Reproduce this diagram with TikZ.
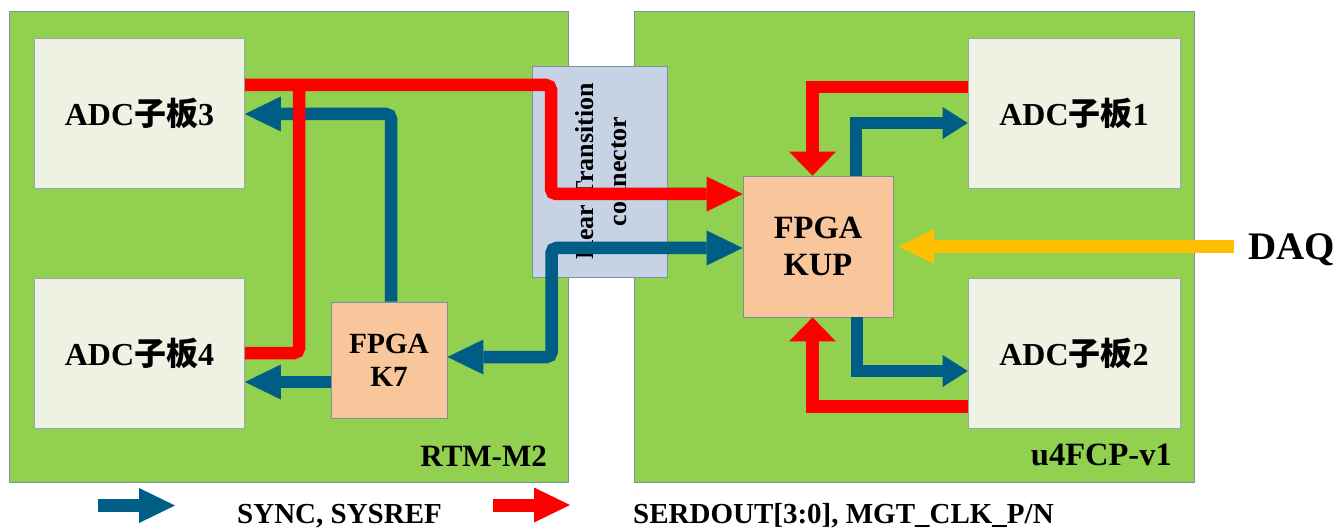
\documentclass[tikz,border=0pt]{standalone}
\usepackage{fontspec}
\usepackage{graphicx}
\setmainfont{Liberation Serif}
\newfontfamily\cjk{Noto Sans CJK SC}
\usetikzlibrary{arrows.meta}
\definecolor{panelgreen}{HTML}{92D050}
\definecolor{adcfill}{HTML}{EEF2E2}
\definecolor{connfill}{HTML}{C5D3E5}
\definecolor{fpgafill}{HTML}{F9C59B}
\definecolor{edgegray}{HTML}{7A90A4}
\definecolor{syncblue}{HTML}{005E86}
\definecolor{serdred}{HTML}{FF0000}
\definecolor{daqyellow}{HTML}{FFC000}
\tikzset{
  tipbig/.tip={Triangle[length=36pt,width=35pt,line width=0pt]},
  tipdown/.tip={Triangle[length=24pt,width=47pt,line width=0pt]},
  tipside/.tip={Triangle[length=25pt,width=32pt,line width=0pt]},
  panel/.style={draw=edgegray, line width=0.9pt, fill=panelgreen, minimum width=559pt, minimum height=471pt, inner sep=0pt},
  adcbox/.style={draw=edgegray!80, line width=0.7pt, fill=adcfill, minimum width=210pt, minimum height=150pt, inner sep=0pt, font=\fontsize{32}{38}\selectfont\bfseries},
  connbox/.style={draw=edgegray, line width=0.8pt, fill=connfill, minimum width=135pt, minimum height=211pt, inner sep=0pt},
  fpgabox/.style={draw=edgegray, line width=0.8pt, fill=fpgafill, inner sep=0pt, align=center},
  lbl/.style={inner sep=0pt, font=\fontsize{31}{36}\selectfont\bfseries},
  legendtext/.style={inner sep=0pt, font=\fontsize{29}{34}\selectfont\bfseries},
  sync/.style={draw=syncblue, line width=12.5pt, line cap=butt},
  serd/.style={draw=serdred, line width=12.5pt, line cap=butt},
  daqline/.style={draw=daqyellow, line width=13pt, line cap=butt},
}
\begin{document}
\begin{tikzpicture}[x=1pt,y=-1pt]
\useasboundingbox (0,0) rectangle (1340,529);
% panels
\node[panel] (rtm) at (288.5,246.5) {};
\node[panel, minimum width=560pt] (fcp) at (914,246.5) {};
\node[lbl, anchor=base east] (rtmlbl) at (547,466) {RTM-M2};
\node[lbl, anchor=base east, font=\fontsize{32.5}{36}\selectfont\bfseries] (fcplbl) at (1172,465) {u4FCP-v1};
% ADC boards
\node[adcbox] (adc3) at (139.5,113) {ADC{\cjk 子板}3};
\node[adcbox] (adc4) at (139.5,353) {ADC{\cjk 子板}4};
\node[adcbox, minimum width=212pt] (adc1) at (1074,113) {ADC{\cjk 子板}1};
\node[adcbox, minimum width=212pt] (adc2) at (1074,353) {ADC{\cjk 子板}2};
% connector
\node[connbox] (conn) at (599.5,171.5) {};
\node[rotate=90, align=center, inner sep=0pt, font=\fontsize{26}{33}\selectfont\bfseries] (connlbl) at (601,171.5) {Rear Transition\\connector};
% FPGAs
\node[fpgabox, minimum width=116pt, minimum height=116pt, font=\fontsize{29.3}{33}\selectfont\bfseries] (k7) at (389,360) {FPGA\\K7};
\node[fpgabox, minimum width=150pt, minimum height=141pt, font=\fontsize{32.5}{37}\selectfont\bfseries] (kup) at (818,246.5) {FPGA\\KUP};
% DAQ
\node[inner sep=0pt, anchor=base west, font=\fontsize{39}{44}\selectfont\bfseries] (daq) at (1248,259) {DAQ};
\coordinate (daqsrc) at (1234,246.5);
% blue (SYNC, SYSREF) connectors
\draw[sync, rounded corners=5pt, -tipbig] ([xshift=2pt]k7.north) -- (391,114) -- ([yshift=-1pt]adc3.east);
\draw[sync, -tipbig] ([yshift=-22pt]k7.west) -- ([yshift=-29pt]adc4.east);
\draw[sync, rounded corners=5pt, tipbig-tipbig] ([yshift=3pt]k7.east) -- (551.5,357) -- (551.5,248) -- ([yshift=-1.5pt]kup.west);
\draw[sync, -tipside] ([xshift=38pt]kup.north) -- (856,123) -- ([yshift=-10pt]adc1.west);
\draw[sync, -tipside] ([xshift=39pt]kup.south) -- (857,371) -- ([yshift=-18pt]adc2.west);
% red (SERDOUT, MGT_CLK) connectors
\draw[serd, rounded corners=5pt] (adc4.east) -- (299,353) -- (299,85);
\draw[serd, rounded corners=5pt, -tipbig] ([yshift=28pt]adc3.east) -- (551,85) -- (551,194) -- ([yshift=52.5pt]kup.west);
\draw[serd, -tipdown] ([yshift=26pt]adc1.west) -- (812.5,87) -- ([xshift=-5.5pt]kup.north);
\draw[serd, -tipdown] ([yshift=-53.5pt]adc2.west) -- (812.5,406.5) -- ([xshift=-5.5pt]kup.south);
% DAQ link
\draw[daqline, -tipbig] (daqsrc) -- ([xshift=5pt]kup.east);
% legend
\coordinate (lgbA) at (98,505.5);
\coordinate (lgbB) at (175,505.5);
\coordinate (lgrA) at (493,505);
\coordinate (lgrB) at (570,505);
\draw[sync, line width=13pt, -tipbig] (lgbA) -- (lgbB);
\draw[serd, line width=13pt, -tipbig] (lgrA) -- (lgrB);
\node[legendtext, anchor=base west] (lgbtxt) at (237,523) {SYNC, SYSREF};
\node[legendtext, anchor=base west] (lgrtxt) at (633,523) {SERDOUT[3:0], MGT\_CLK\_P/N};
\end{tikzpicture}
\end{document}
